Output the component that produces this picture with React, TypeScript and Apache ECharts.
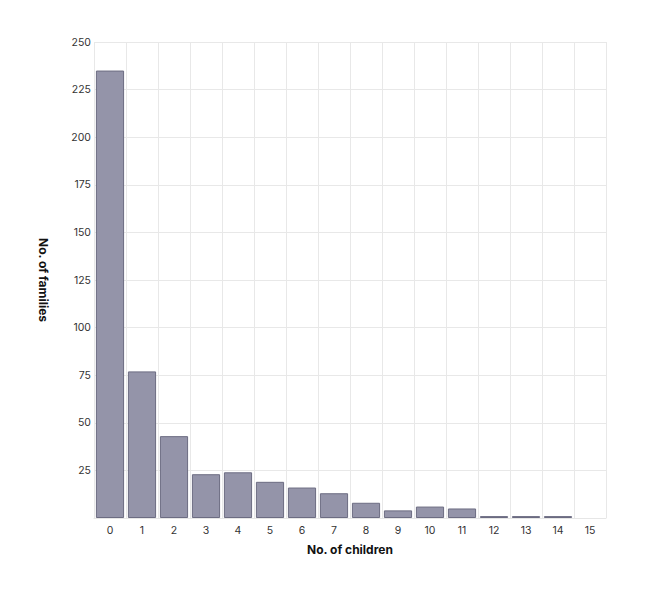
import React, { useEffect, useRef } from 'react';
import * as echarts from 'echarts';

const children = ['0', '1', '2', '3', '4', '5', '6', '7', '8', '9', '10', '11', '12', '13', '14', '15'];
const families = [235, 77, 43, 23, 24, 19, 16, 13, 8, 4, 6, 5, 1, 1, 1, 0];

const FONT = 'Inter, "Noto Sans", sans-serif';

export default function App() {
  const chartRef = useRef<HTMLDivElement>(null);

  useEffect(() => {
    if (!chartRef.current) return;
    const chart = echarts.init(chartRef.current, undefined, { renderer: 'svg' });

    const option: echarts.EChartsOption = {
      animation: false,
      backgroundColor: '#ffffff',
      textStyle: { fontFamily: FONT },
      grid: { left: 86, right: 32, top: 34, bottom: 68 },
      xAxis: {
        type: 'category',
        data: children,
        name: 'No. of children',
        nameLocation: 'middle',
        nameGap: 25,
        nameTextStyle: { color: '#111', fontSize: 12, fontWeight: 'bold', fontFamily: FONT },
        axisLine: { lineStyle: { color: '#e6e6e6' } },
        axisTick: { show: false },
        axisLabel: { color: '#333', fontSize: 10.5, margin: 7, fontFamily: FONT },
        splitLine: { show: true, lineStyle: { color: '#e8e8e8' } }
      },
      yAxis: {
        type: 'value',
        min: 0,
        max: 250,
        interval: 25,
        name: 'No. of families',
        nameLocation: 'middle',
        nameRotate: -90,
        nameGap: 45,
        nameTextStyle: { color: '#111', fontSize: 12, fontWeight: 'bold', fontFamily: FONT },
        axisLine: { show: false },
        axisTick: { show: false },
        axisLabel: {
          color: '#333',
          fontSize: 10.5,
          margin: 3,
          padding: [6, 0, 0, 0],
          showMinLabel: false,
          fontFamily: FONT
        },
        splitLine: { lineStyle: { color: '#e8e8e8' } }
      },
      series: [{
        type: 'bar',
        data: families.map((v) => (v === 0 ? { value: v, itemStyle: { borderWidth: 0 } } : v)),
        barWidth: '88%',
        itemStyle: {
          color: '#9494a9',
          borderColor: '#6c6c82',
          borderWidth: 1
        }
      }]
    };

    chart.setOption(option);
    return () => chart.dispose();
  }, []);

  return <div ref={chartRef} style={{ width: 630, height: 578 }} />;
}
